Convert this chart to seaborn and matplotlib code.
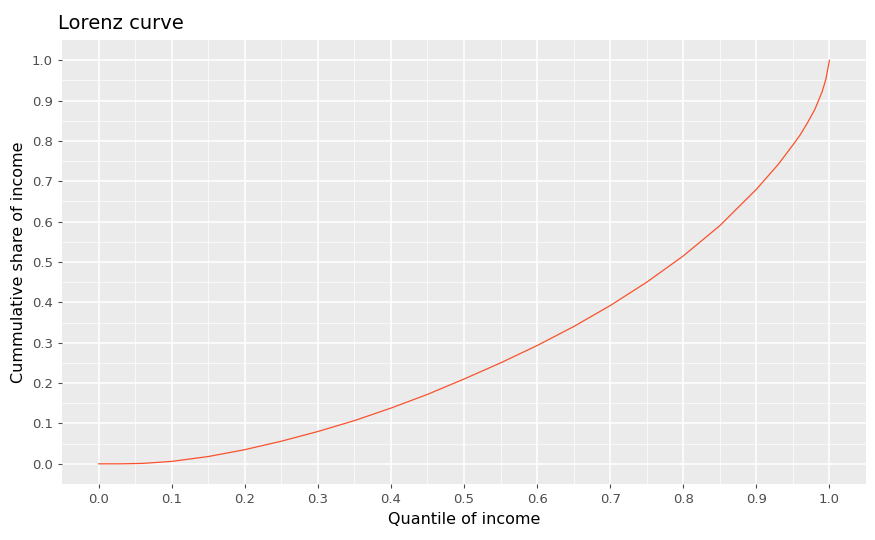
import numpy as np
import pandas as pd
import matplotlib.pyplot as plt
import seaborn as sns

# values
quantile = [0.0, 0.03, 0.06, 0.1, 0.15, 0.2, 0.25, 0.3, 0.35, 0.4, 0.45, 0.5,
            0.55, 0.6, 0.65, 0.7, 0.75, 0.8, 0.85, 0.9, 0.93, 0.95, 0.96, 0.97,
            0.98, 0.99, 0.995, 1.0]
share = [0.0, 0.0, 0.001, 0.006, 0.018, 0.035, 0.056, 0.08, 0.107, 0.138, 0.172, 0.21,
         0.25, 0.293, 0.34, 0.392, 0.45, 0.515, 0.59, 0.68, 0.742, 0.79, 0.815, 0.845,
         0.878, 0.922, 0.952, 1.0]

df = pd.DataFrame({"q": quantile, "s": share})

sns.set_theme(style="darkgrid", rc={
    "axes.facecolor": "#EBEBEB", "grid.color": "white",
    "axes.edgecolor": "#EBEBEB"})
plt.rcParams['font.family'] = ['DejaVu Sans']

fig = plt.figure(figsize=(8.75, 5.4), dpi=100)
ax = fig.add_axes([62 / 875, 56 / 540, 804 / 875, 444 / 540])
sns.lineplot(data=df, x="q", y="s", color="#F8522D", linewidth=0.9, ax=ax)

ax.set_xlim(-0.05, 1.05)
ax.set_ylim(-0.05, 1.05)
ticks = np.round(np.arange(0, 1.01, 0.1), 1)
ax.set_xticks(ticks)
ax.set_yticks(ticks)
ax.set_xticklabels([f"{t:.1f}" for t in ticks])
ax.set_yticklabels([f"{t:.1f}" for t in ticks])
ax.set_xticks(np.arange(0.05, 1.0, 0.1), minor=True)
ax.set_yticks(np.arange(0.05, 1.0, 0.1), minor=True)
ax.grid(which="major", color="white", linewidth=1.1)
ax.grid(which="minor", color="white", linewidth=0.5)
ax.tick_params(which="major", colors="#4D4D4D", labelsize=9.5, length=3, width=0.8,
               bottom=True, left=True)
ax.tick_params(which="minor", length=0)
for s in ax.spines.values():
    s.set_visible(False)
ax.set_xlabel("Quantile of income", fontsize=11.5, color="black")
ax.set_ylabel("Cummulative share of income", fontsize=11.5, color="black")
ax.set_title("Lorenz curve", loc="left", fontsize=14, color="black", x=-0.005, pad=8)

fig.savefig("out.png", dpi=100)
